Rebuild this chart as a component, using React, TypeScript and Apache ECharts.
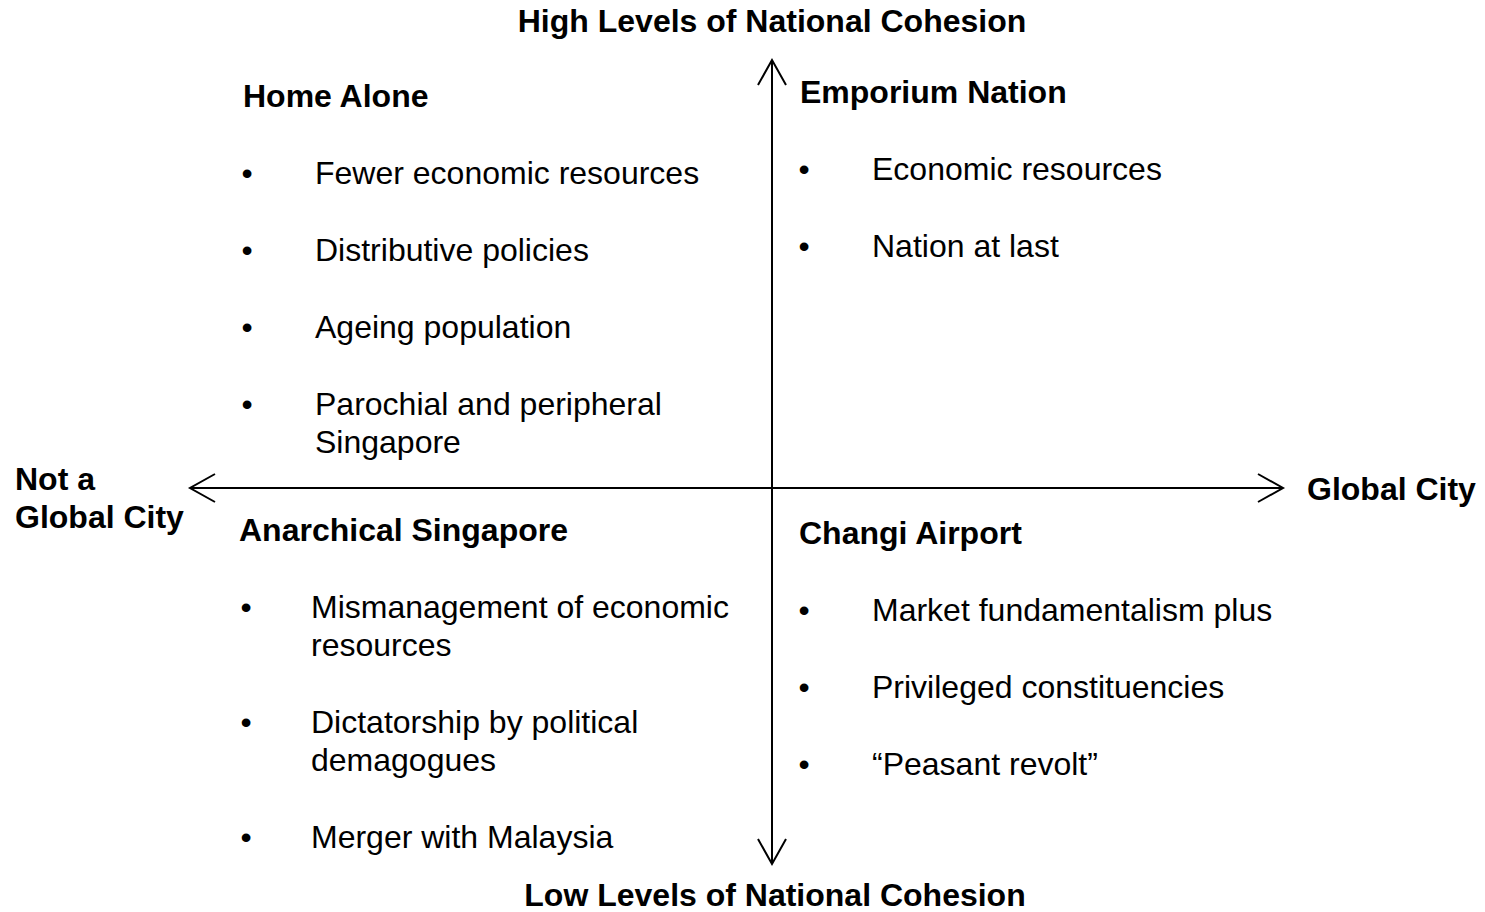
import React, { useEffect, useRef } from "react";
import * as echarts from "echarts";

// ---- Data (texts of the diagram) ----
const topLabel = "High Levels of National Cohesion";
const bottomLabel = "Low Levels of National Cohesion";
const leftLabel = ["Not a", "Global City"];
const rightLabel = "Global City";

const quadrantTitles = ["Home Alone", "Emporium Nation", "Anarchical Singapore", "Changi Airport"];
const homeAloneItems = [
  "Fewer economic resources",
  "Distributive policies",
  "Ageing population",
  "Parochial and peripheral\nSingapore",
];
const emporiumItems = ["Economic resources", "Nation at last"];
const anarchicalItems = [
  "Mismanagement of economic\nresources",
  "Dictatorship by political\ndemagogues",
  "Merger with Malaysia",
];
const changiItems = ["Market fundamentalism plus", "Privileged constituencies", "\u201CPeasant revolt\u201D"];

const quadrantItems = [homeAloneItems, emporiumItems, anarchicalItems, changiItems];

// ---- Layout ----
const FONT = "'Liberation Sans', Arial, Helvetica, sans-serif";
const LH = 38;
const ITEM_STEP = 77;
const REG = 32;
const BOLD = 32;

const quadrantLayout = [
  { titleX: 243, titleY: 96, bulletX: 247, textX: 315 },
  { titleX: 800, titleY: 92, bulletX: 804, textX: 872 },
  { titleX: 239, titleY: 530, bulletX: 246, textX: 311 },
  { titleX: 799, titleY: 533, bulletX: 804, textX: 872 },
];

const CX = 772;
const CY = 488;
const TOP = 60;
const BOTTOM = 864;
const LEFT = 190;
const RIGHT = 1283;
const HEAD_LEN = 25;
const HEAD_HALF = 14;

// y = centre of the first line
function txt(x: number, y: number, text: string, bold: boolean, align: string = "left") {
  const n = text.split("\n").length;
  return {
    type: "text",
    x,
    y: y + ((n - 1) * LH) / 2,
    style: {
      text,
      fill: "#000",
      font: `${bold ? "bold " : ""}${bold ? BOLD : REG}px ${FONT}`,
      fontFamily: FONT,
      fontSize: bold ? BOLD : REG,
      fontWeight: bold ? "bold" : "normal",
      lineHeight: n > 1 ? LH : undefined,
      align,
      verticalAlign: "middle",
    },
    silent: true,
  };
}

function line(points: number[][]) {
  return {
    type: "polyline",
    shape: { points },
    style: { stroke: "#000", lineWidth: 2, fill: null, lineJoin: "miter", lineCap: "butt" },
    silent: true,
  };
}

export default function App() {
  const ref = useRef<HTMLDivElement>(null);

  useEffect(() => {
    if (!ref.current) return;
    const chart = echarts.init(ref.current, null, { renderer: "svg" });

    const elements: any[] = [];

    // axes with open arrowheads
    elements.push(line([[CX, TOP], [CX, BOTTOM]]));
    elements.push(line([[CX - HEAD_HALF, TOP + HEAD_LEN], [CX, TOP], [CX + HEAD_HALF, TOP + HEAD_LEN]]));
    elements.push(line([[CX - HEAD_HALF, BOTTOM - HEAD_LEN], [CX, BOTTOM], [CX + HEAD_HALF, BOTTOM - HEAD_LEN]]));
    elements.push(line([[LEFT, CY], [RIGHT, CY]]));
    elements.push(line([[LEFT + HEAD_LEN, CY - HEAD_HALF], [LEFT, CY], [LEFT + HEAD_LEN, CY + HEAD_HALF]]));
    elements.push(line([[RIGHT - HEAD_LEN, CY - HEAD_HALF], [RIGHT, CY], [RIGHT - HEAD_LEN, CY + HEAD_HALF]]));

    // axis labels
    elements.push(txt(772, 21, topLabel, true, "center"));
    elements.push(txt(775, 895, bottomLabel, true, "center"));
    elements.push(txt(15, 479, leftLabel.join("\n"), true, "left"));
    elements.push(txt(1307, 489, rightLabel, true, "left"));

    // quadrants
    quadrantTitles.forEach((title, qi) => {
      const L = quadrantLayout[qi];
      elements.push(txt(L.titleX, L.titleY, title, true));
      let y = L.titleY;
      quadrantItems[qi].forEach((item) => {
        y += ITEM_STEP;
        elements.push(txt(L.bulletX, y, "\u2022", false, "center"));
        elements.push(txt(L.textX, y, item, false));
        y += (item.split("\n").length - 1) * LH;
      });
    });

    chart.setOption({
      animation: false,
      backgroundColor: "#fff",
      graphic: { elements },
    });

    return () => chart.dispose();
  }, []);

  return (
    <div
      ref={ref}
      style={{ position: "fixed", left: 0, top: 0, width: 1485, height: 912, background: "#fff" }}
    />
  );
}
